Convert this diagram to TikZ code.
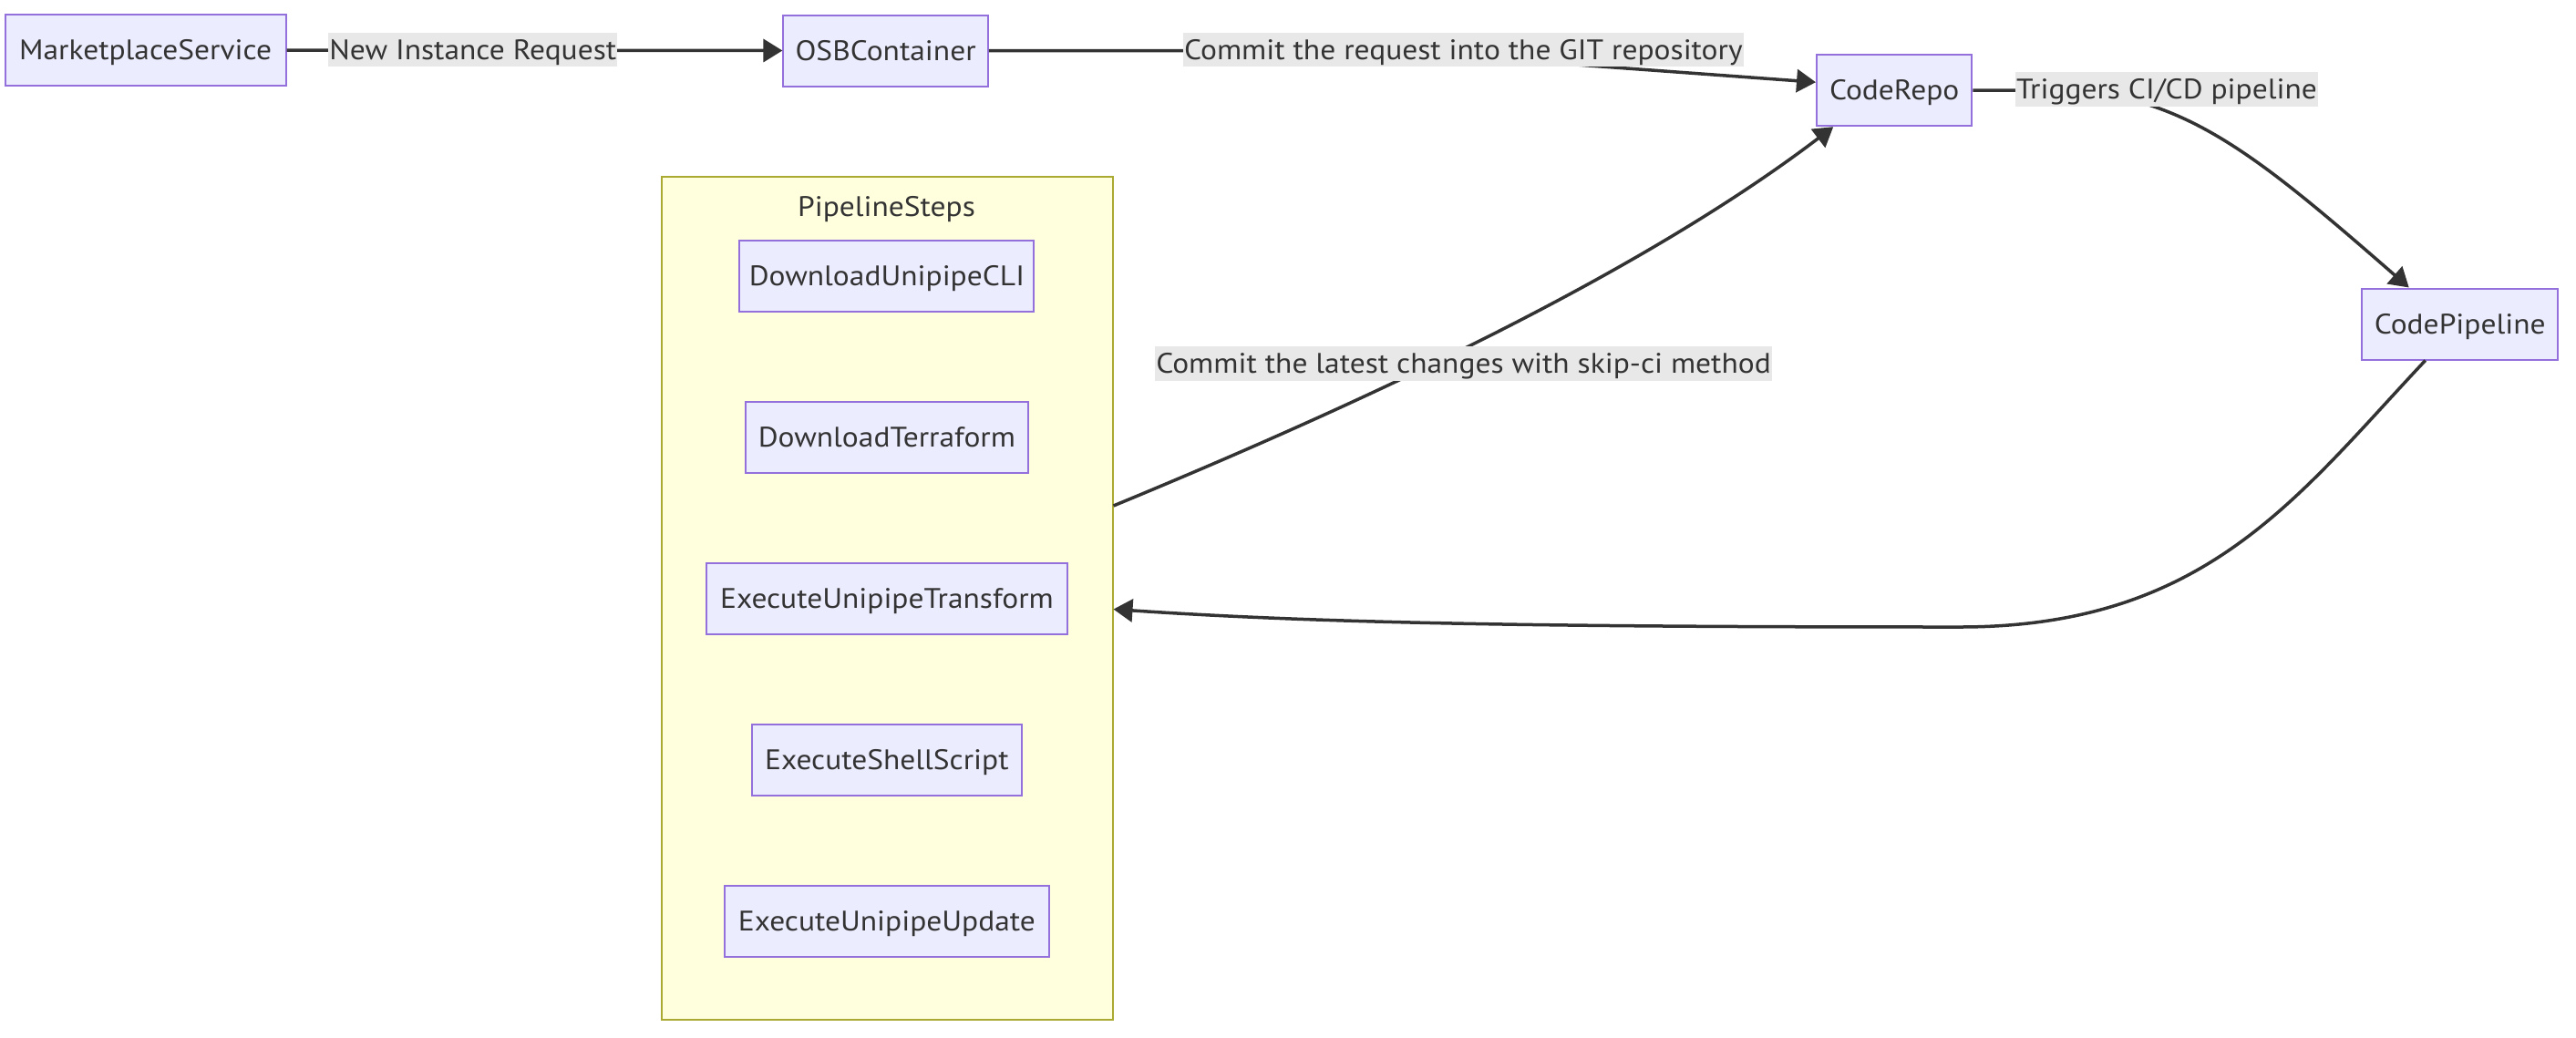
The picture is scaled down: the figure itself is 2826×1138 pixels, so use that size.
\documentclass[tikz,border=0pt]{standalone}
\usepackage{fontspec}
\setmainfont{PT Sans}[FakeStretch=1.08]
\usetikzlibrary{arrows.meta,calc}
\definecolor{ndfill}{HTML}{ECECFF}
\definecolor{ndline}{HTML}{9370DB}
\definecolor{clfill}{HTML}{FFFFDE}
\definecolor{clline}{HTML}{AAAA33}
\definecolor{ink}{HTML}{333333}
\definecolor{lblbg}{HTML}{E8E8E8}
\begin{document}
\begin{tikzpicture}[x=1pt,y=-1pt,
  every node/.style={font=\fontsize{31}{37}\selectfont, text=ink},
  nd/.style={draw=ndline, fill=ndfill, line width=2pt, minimum height=78pt, inner sep=0pt, text height=22pt, text depth=1pt},
  lbl/.style={fill=lblbg, inner xsep=1pt, inner ysep=0pt, minimum height=37.6pt, text height=22pt, text depth=1pt},
  conn/.style={draw=ink, line width=3.5pt, -{Triangle[length=21pt,width=25pt]}},
  cluster/.style={draw=clline, fill=clfill, line width=2pt, inner sep=0pt}]
\useasboundingbox (0,0) rectangle (2826,1138);
\fill[white] (0,0) rectangle (2826,1138);
% cluster
\node[cluster, minimum width=495pt, minimum height=925pt] (cl) at (973,656.5) {};
\node[anchor=base, inner sep=0pt] (clt) at (972.5,237) {PipelineSteps};
% nodes
\node[nd, minimum width=308pt] (mps) at (159.6,55.2) {MarketplaceService};
\node[nd, minimum width=224.4pt] (osb) at (971.6,55.5) {OSBContainer};
\node[nd, minimum width=170.4pt] (repo) at (2078.2,99.2) {CodeRepo};
\node[nd, minimum width=214.6pt] (pipe) at (2698.7,355.5) {CodePipeline};
\node[nd, minimum width=322.9pt] (s1) at (972.9,302.5) {DownloadUnipipeCLI};
\node[nd, minimum width=309.9pt] (s2) at (972.9,479.5) {DownloadTerraform};
\node[nd, minimum width=395.3pt] (s3) at (973,656.5) {ExecuteUnipipeTransform};
\node[nd, minimum width=296.2pt] (s4) at (972.9,833.5) {ExecuteShellScript};
\node[nd, minimum width=355.9pt] (s5) at (972.9,1010.7) {ExecuteUnipipeUpdate};
% connectors
\draw[conn] (mps.east) -- (osb.west);
\draw[conn] (osb.east) -- (1400,55.5) .. controls (1550,55.5) and (1650,65.5) .. (1757,73) -- ($(repo.west)+(0,-9)$);
\draw[conn] (repo.east) -- (2250,99.2) .. controls (2390,99.2) and (2470,165) .. ($(pipe.north)+(-56,0)$);
\draw[conn] ($(pipe.south)+(-38,0)$) .. controls (2520,545) and (2420,688) .. (2150,688) .. controls (1700,688) and (1450,684) .. ($(cl.east)+(0,12)$);
\draw[conn] ($(cl.east)+(0,-101.5)$) .. controls (1500,440) and (1800,300) .. ($(repo.south)+(-67,0)$);
% labels
\node[lbl] (l1) at (518.8,54.5) {New Instance Request};
\node[lbl] (l2) at (1605.4,54.5) {Commit the request into the GIT repository};
\node[lbl] (l3) at (2377,98) {Triggers CI/CD pipeline};
\node[lbl] (l4) at (1605.6,399) {Commit the latest changes with skip-ci method};
\end{tikzpicture}
\end{document}
